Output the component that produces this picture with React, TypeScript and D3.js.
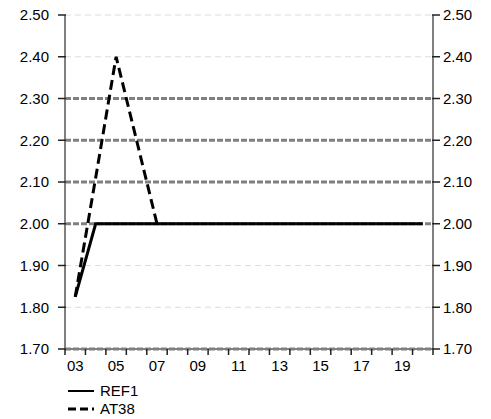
import React from "react";
import * as d3 from "d3";

const categories = ["03","04","05","06","07","08","09","10","11","12","13","14","15","16","17","18","19","20"];
const tickLabels = ["03","05","07","09","11","13","15","17","19"];
const ref1: (number | null)[] = [1.825,2.0,2.0,2.0,2.0,2.0,2.0,2.0,2.0,2.0,2.0,2.0,2.0,2.0,2.0,2.0,2.0,2.0];
const at38: (number | null)[] = [1.825,2.11,2.40,2.20,2.00,null,null,null,null,null,null,null,null,null,null,null,null,null];
const yTicks = [1.7,1.8,1.9,2.0,2.1,2.2,2.3,2.4,2.5];
const strongGrid = [1.7,2.0,2.1,2.2,2.3];
const seriesNames = ["REF1","AT38"];

const W = 491, H = 419;
const L = 65, R = 433, T = 15, B = 349;

export default function App() {
  const x = d3.scaleBand<string>().domain(categories).range([L, R]).padding(0);
  const y = d3.scaleLinear().domain([1.7, 2.5]).range([B, T]);
  const cx = (c: string) => (x(c) as number) + x.bandwidth() / 2;
  const line = d3.line<number | null>()
    .defined(d => d !== null)
    .x((_, i) => cx(categories[i]))
    .y(d => y(d as number));
  const font = "'Liberation Sans', Arial, sans-serif";
  return (
    <svg width={W} height={H} style={{ position: "absolute", left: 0, top: 0 }} fontFamily={font}>
      <rect width={W} height={H} fill="#fff" />
      {yTicks.filter(t => !strongGrid.includes(t)).map(t => (
        <line key={"g" + t} x1={L} x2={R} y1={y(t)} y2={y(t)} stroke="#dcdcdc" strokeWidth={1} strokeDasharray="6,4" />
      ))}
      <line x1={L} x2={L} y1={T} y2={B} stroke="#808080" strokeWidth={2} />
      <line x1={R} x2={R} y1={T} y2={B} stroke="#808080" strokeWidth={2} />
      <line x1={L} x2={R} y1={B} y2={B} stroke="#808080" strokeWidth={2} />
      {strongGrid.map(t => (
        <line key={"s" + t} x1={L} x2={R} y1={y(t)} y2={y(t)} stroke="#808080" strokeWidth={3} strokeDasharray="6,2" />
      ))}
      {yTicks.map(t => (
        <g key={"t" + t}>
          <line x1={L - 7} x2={L + 1} y1={y(t)} y2={y(t)} stroke="#222" strokeWidth={1.5} />
          <line x1={R - 1} x2={R + 7} y1={y(t)} y2={y(t)} stroke="#222" strokeWidth={1.5} />
          <text x={L - 16} y={y(t)} dy="0.36em" textAnchor="end" fontSize={15} fill="#000">{t.toFixed(2)}</text>
          <text x={R + 10} y={y(t)} dy="0.36em" textAnchor="start" fontSize={15} fill="#000">{t.toFixed(2)}</text>
        </g>
      ))}
      {categories.map(c => (
        <line key={"xt" + c} x1={(x(c) as number)} x2={(x(c) as number)} y1={B} y2={B + 6} stroke="#222" strokeWidth={1.5} />
      ))}
      <line x1={R} x2={R} y1={B} y2={B + 6} stroke="#222" strokeWidth={1.5} />
      {tickLabels.map(c => (
        <text key={"xl" + c} x={cx(c)} y={B + 22} textAnchor="middle" fontSize={15} fill="#000">{c}</text>
      ))}
      <path d={line(at38) || ""} fill="none" stroke="#000" strokeWidth={3} strokeDasharray="10,5" />
      <path d={line(ref1) || ""} fill="none" stroke="#000" strokeWidth={3} />
      <line x1={68} x2={94} y1={391} y2={391} stroke="#000" strokeWidth={2} />
      <text x={100} y={391} dy="0.36em" fontSize={15} fill="#000">{seriesNames[0]}</text>
      <line x1={68} x2={94} y1={409} y2={409} stroke="#000" strokeWidth={3} strokeDasharray="8,4" />
      <text x={100} y={409} dy="0.36em" fontSize={15} fill="#000">{seriesNames[1]}</text>
    </svg>
  );
}
